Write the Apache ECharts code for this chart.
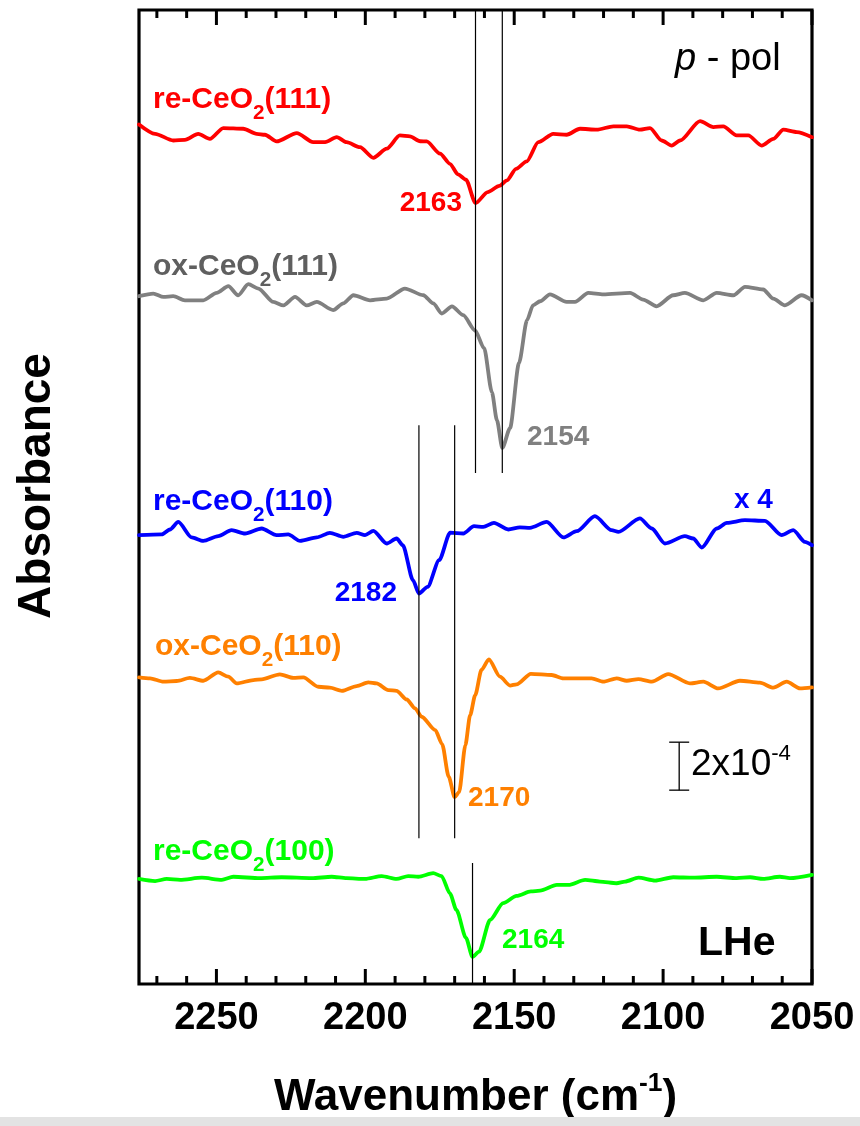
<!DOCTYPE html>
<html>
<head>
<meta charset="utf-8">
<script src="https://cdn.jsdelivr.net/npm/echarts@6/dist/echarts.min.js"></script>
<style>
  html, body { margin: 0; padding: 0; background: #fff; }
  #chart { width: 860px; height: 1126px; }
</style>
</head>
<body>
<div id="chart"></div>
<script>
// Wavenumber axis (cm^-1), drawn high -> low
const xMajorStep = 50;
const xMajorTicks = [2050, 2100, 2150, 2200, 2250];
const xMinorTicks = [2060, 2070, 2080, 2090, 2110, 2120, 2130, 2140, 2160, 2170, 2180, 2190,
                     2210, 2220, 2230, 2240, 2260, 2270];

// Spectra: absorbance change in units of 1e-4, relative to each trace's own baseline
const reCeO2_111_wn = [2276, 2270.6, 2264.5, 2260.6, 2256.1, 2252.2, 2247.7, 2241.0, 2236.5, 2233.7,
  2229.8, 2223.0, 2217.5, 2213.5, 2209.6, 2206.3, 2201.8, 2197.3, 2192.8, 2188.4, 2185.0, 2181.6,
  2179.4, 2174.9, 2171.6, 2168.9, 2166.2, 2163.0, 2158.9, 2155.0, 2152.4, 2149.4, 2145.8, 2141.9,
  2136.9, 2132.4, 2127.9, 2122.3, 2116.7, 2112.2, 2107.8, 2104.4, 2100.5, 2097.1, 2094.3, 2087.6,
  2083.1, 2079.8, 2075.3, 2071.4, 2066.9, 2063.0, 2059.6, 2055.1, 2050];
const reCeO2_111_abs = [0.25, -0.14, -0.42, -0.39, -0.14, -0.35, 0.10, 0.07, -0.14, -0.18,
  -0.46, -0.11, -0.49, -0.49, -0.28, -0.49, -0.70, -1.14, -0.76, -0.21, -0.25, -0.45,
  -0.46, -0.97, -1.39, -1.83, -2.05, -3.03, -2.57, -2.31, -2.08, -1.60, -1.29, -0.49,
  -0.14, -0.18, 0.07, 0.03, 0.17, 0.17, 0.03, 0.10, -0.42, -0.63, -0.42, 0.39,
  0.14, 0.17, -0.21, -0.21, -0.63, -0.35, 0.03, -0.07, -0.28];

const oxCeO2_111_wn = [2276, 2271.2, 2267.8, 2264.5, 2260.6, 2254.4, 2249.9, 2246.0, 2242.7, 2239.3,
  2235.9, 2230.9, 2227.5, 2223.6, 2219.7, 2216.3, 2210.8, 2207.4, 2204.0, 2198.4, 2192.8, 2186.7,
  2180.5, 2177.2, 2174.3, 2170.9, 2167.1, 2163.2, 2160.1, 2157.5, 2155.8, 2154.0, 2151.4, 2148.4,
  2145.7, 2143.7, 2141.3, 2138.0, 2132.4, 2129.6, 2125.1, 2120.1, 2111.1, 2106.7, 2102.2, 2096.6,
  2092.7, 2086.5, 2082.0, 2076.4, 2072.5, 2066.4, 2063.0, 2059.1, 2053.5, 2050];
const oxCeO2_111_abs = [0, 0.11, -0.03, 0, -0.17, -0.17, 0.14, 0.42, 0.04, 0.50,
  0.32, -0.24, -0.38, -0.03, -0.38, -0.24, -0.58, -0.30, 0.04, -0.17, -0.10, 0.32,
  0.04, -0.30, -0.72, -0.42, -0.79, -1.42, -2.17, -4.00, -5.17, -6.33, -5.50, -2.79,
  -1.00, -0.38, -0.21, 0.08, -0.24, -0.24, 0.14, 0.08, 0.14, -0.14, -0.42, 0.04,
  0.14, -0.17, 0.14, 0.04, 0.39, 0.28, -0.10, -0.38, 0.04, -0.17];

// re-CeO2(110) is stored unscaled; it is drawn magnified (x 4)
const reCeO2_110_wn = [2276, 2268.4, 2265.6, 2262.8, 2258.3, 2254.4, 2249.4, 2244.9, 2240.4, 2234.8,
  2229.8, 2225.9, 2221.9, 2216.3, 2211.9, 2207.4, 2202.9, 2200.1, 2197.3, 2192.8, 2189.5, 2187.4,
  2184.0, 2182.0, 2179.1, 2175.2, 2171.5, 2167.1, 2163.5, 2160.4, 2156.8, 2152.0, 2148.1, 2144.7,
  2139.1, 2133.5, 2129.0, 2122.9, 2117.3, 2115.0, 2107.8, 2103.8, 2099.4, 2092.7, 2089.9, 2087.0,
  2082.0, 2078.6, 2072.5, 2065.8, 2060.2, 2056.3, 2052.4, 2050];
const reCeO2_110_abs = [-0.010, -0.003, 0.049, 0.128, -0.034, -0.070, -0.021, 0.042, 0.007, 0.059,
  -0.010, -0.003, -0.070, -0.034, 0.014, -0.028, 0.014, -0.010, 0.034, -0.097, -0.045, -0.115,
  -0.479, -0.618, -0.549, -0.271, 0.016, 0.007, 0.083, 0.076, 0.118, 0.049, 0.070, 0.066,
  0.128, -0.034, 0.031, 0.188, 0.042, 0.024, 0.164, 0.059, -0.097, -0.021, -0.045, -0.139,
  0.059, 0.118, 0.146, 0.139, -0.010, 0.042, -0.080, -0.115];

const oxCeO2_110_wn = [2276, 2272.3, 2267.8, 2263.3, 2258.9, 2254.4, 2249.4, 2246.0, 2243.2, 2237.6,
  2234.8, 2228.7, 2224.2, 2220.8, 2215.8, 2211.9, 2207.9, 2202.9, 2199.0, 2196.2, 2192.3, 2189.5,
  2186.1, 2183.3, 2181.1, 2176.5, 2174.2, 2172.0, 2170.0, 2168.5, 2166.4, 2164.8, 2163.1, 2161.0,
  2158.5, 2154.8, 2151.4, 2149.2, 2144.4, 2137.4, 2133.5, 2124.0, 2120.1, 2115.6, 2112.2, 2108.3,
  2103.8, 2098.3, 2091.0, 2086.5, 2081.5, 2074.2, 2067.5, 2063.0, 2058.5, 2054.0, 2050];
const oxCeO2_110_abs = [0.07, 0.03, -0.11, -0.08, 0.05, -0.07, 0.28, 0.10, -0.18, -0.04,
  -0.01, 0.20, 0.05, 0.07, -0.32, -0.36, -0.49, -0.29, -0.14, -0.18, -0.46, -0.49,
  -0.85, -1.22, -1.57, -2.13, -2.71, -4.07, -4.92, -4.71, -2.75, -1.50, -0.67, 0.38,
  0.82, 0.10, -0.27, -0.22, 0.22, 0.17, 0.03, 0.03, -0.11, 0.03, -0.07, 0,
  -0.11, 0.21, -0.18, -0.11, -0.39, -0.07, -0.15, -0.36, -0.11, -0.39, -0.35];

const reCeO2_100_wn = [2276, 2270.6, 2266.7, 2262.2, 2254.9, 2248.2, 2244.3, 2235.4, 2228.1, 2218.0,
  2211.3, 2206.3, 2200.1, 2194.5, 2189.5, 2185.6, 2182.2, 2177.2, 2174.4, 2171.6, 2169.4, 2166.2,
  2164.0, 2161.8, 2158.1, 2153.7, 2149.2, 2144.4, 2141.3, 2135.7, 2131.8, 2126.2, 2121.2, 2115.6,
  2112.8, 2108.3, 2102.7, 2096.6, 2089.9, 2082.0, 2075.3, 2070.8, 2066.4, 2060.8, 2057.4, 2050];
const reCeO2_100_abs = [-0.04, -0.13, -0.04, -0.08, 0.01, -0.08, 0.05, -0.01, 0.03, -0.01,
  0.05, -0.01, -0.04, 0.08, -0.04, 0.08, 0.05, 0.20, 0.08, -0.64, -1.33, -2.50,
  -3.29, -3.07, -1.75, -1.05, -0.75, -0.56, -0.53, -0.29, -0.29, -0.08, -0.15, -0.22,
  -0.15, 0.01, -0.11, 0.03, 0.01, 0.05, -0.01, 0.03, -0.04, 0.05, -0.01, 0.13];

// Vertical stacking offsets (1e-4 units) and display magnification of each trace
const traceOffsets = [35.58, 28.67, 18.75, 12.71, 4.42];
const traceScales = [1, 1, 4, 1, 1];

// Band positions (cm^-1)
const peakPositions = [2163, 2154, 2182, 2170, 2164];

// Scale bar: 2 x 10^-4 absorbance
const scaleBarValue = 2;

// ---------------------------------------------------------------
const FONT = '"Liberation Sans", Arial, Helvetica, sans-serif';
const X_MIN = 2050, X_MAX = 2276;
const Y_MIN = 0, Y_MAX = 40.6;

const traces = [
  { name: ['re-CeO', '2', '(111)'], wn: reCeO2_111_wn, abs: reCeO2_111_abs, color: '#ff0000', labelColor: '#ff0000' },
  { name: ['ox-CeO', '2', '(111)'], wn: oxCeO2_111_wn, abs: oxCeO2_111_abs, color: '#808080', labelColor: '#5f5f5f' },
  { name: ['re-CeO', '2', '(110)'], wn: reCeO2_110_wn, abs: reCeO2_110_abs, color: '#0000ff', labelColor: '#0000ff' },
  { name: ['ox-CeO', '2', '(110)'], wn: oxCeO2_110_wn, abs: oxCeO2_110_abs, color: '#ff8000', labelColor: '#ff8000' },
  { name: ['re-CeO', '2', '(100)'], wn: reCeO2_100_wn, abs: reCeO2_100_abs, color: '#00ff00', labelColor: '#00ff00' }
];

// marker line vertical spans (axis units) for each band
const markerSpans = [[21.3, Y_MAX], [21.3, Y_MAX], [6.08, 23.29], [6.08, 23.29], [Y_MIN, 5.04]];
const peakColors = ['#ff0000', '#808080', '#0000ff', '#ff8000', '#00ff00'];
// label anchors: [x, baseline, align]
const peakLabelAnchors = [[462, 213, 'right'], [527, 447, 'left'], [397, 603, 'right'], [468, 808, 'left'], [502, 950, 'left']];
const nameAnchors = [[153, 110], [153, 277], [153, 512], [155, 657], [153, 862]];

// text measuring for multi-part labels (sub/superscripts, italics)
const measureCtx = document.createElement('canvas').getContext('2d');
function textWidth(text, size, weight, style) {
  measureCtx.font = `${style || 'normal'} ${weight || 'normal'} ${size}px ${FONT}`;
  return measureCtx.measureText(text).width;
}

// parts: [{t, sub?, sup?, it?}] ; returns graphic text elements sitting on one baseline
function composeText(parts, x, baseline, size, weight, color, align, z) {
  const items = parts.map(p => {
    const fs = p.sub ? size * 0.69 : p.sup ? size * 0.6 : size;
    const shift = p.sub ? size * 0.34 : p.sup ? -size * 0.45 : 0;
    const style = p.it ? 'italic' : 'normal';
    return { t: p.t, fs, shift, style, w: textWidth(p.t, fs, weight, style) };
  });
  const total = items.reduce((s, it) => s + it.w, 0);
  let cx = align === 'right' ? x - total : align === 'center' ? x - total / 2 : x;
  const els = [];
  items.forEach(it => {
    els.push({
      type: 'text', x: cx, y: baseline + it.shift - 0.3465 * it.fs, z: z || 10, silent: true,
      style: {
        text: it.t, fill: color, fontSize: it.fs, fontWeight: weight, fontStyle: it.style,
        fontFamily: FONT, align: 'left', verticalAlign: 'middle',
        textAlign: 'left', textVerticalAlign: 'middle'
      }
    });
    cx += it.w;
  });
  return els;
}

const graphics = [];
traces.forEach((tr, i) => {
  const [x, bl] = nameAnchors[i];
  graphics.push(...composeText([{ t: tr.name[0] }, { t: tr.name[1], sub: true }, { t: tr.name[2] }],
    x, bl, 30, 'bold', tr.labelColor, 'left'));
  const [px, pb, pa] = peakLabelAnchors[i];
  graphics.push(...composeText([{ t: String(peakPositions[i]) }], px, pb, 28, 'bold', peakColors[i], pa));
});
graphics.push(...composeText([{ t: 'x 4' }], 734, 510, 28, 'bold', '#0000ff', 'left'));
graphics.push(...composeText([{ t: 'LHe' }], 698, 958, 41, 'bold', '#000', 'left'));
graphics.push(...composeText([{ t: 'p', it: true }, { t: ' - pol' }], 675, 73, 38, 'normal', '#000', 'left'));
graphics.push(...composeText([{ t: scaleBarValue + 'x10' }, { t: '-4', sup: true }], 691, 778, 37, 'normal', '#000', 'left'));
graphics.push(...composeText([{ t: 'Wavenumber (cm' }, { t: '-1', sup: true }, { t: ')' }], 475.5, 1113, 44, 'bold', '#000', 'center'));
graphics.push({
  type: 'text', x: 53 - 0.3465 * 46, y: 486, rotation: Math.PI / 2, silent: true,
  style: {
    text: 'Absorbance', fill: '#000', fontSize: 46, fontWeight: 'bold', fontFamily: FONT,
    align: 'center', verticalAlign: 'middle', textAlign: 'center', textVerticalAlign: 'middle'
  }
});
graphics.push({
  type: 'rect', x: 0, y: 1117, z: 20, silent: true,
  shape: { width: 860, height: 9 }, style: { fill: '#e3e3e3' }
});

const series = [];
traces.forEach((tr, i) => {
  series.push({
    type: 'line', name: tr.name.join(''), xAxisIndex: 0, yAxisIndex: 0,
    data: tr.wn.map((w, k) => [w, traceOffsets[i] + traceScales[i] * tr.abs[k]]),
    showSymbol: false, symbol: 'none', animation: false, z: 2,
    smooth: 0.25, smoothMonotone: 'x',
    lineStyle: { color: tr.color, width: 3.8, join: 'round', cap: 'round' }
  });
});
peakPositions.forEach((p, i) => {
  series.push({
    type: 'line', xAxisIndex: 0, yAxisIndex: 0,
    data: [[p, markerSpans[i][0]], [p, markerSpans[i][1]]],
    showSymbol: false, symbol: 'none', animation: false, z: 3, silent: true,
    lineStyle: { color: '#000', width: 1.2 }
  });
});
// scale bar (I-beam) of height scaleBarValue
series.push({
  type: 'custom', xAxisIndex: 0, yAxisIndex: 0, clip: false, silent: true, z: 4,
  data: [[2094.6, 8.08, scaleBarValue]],
  renderItem: (params, api) => {
    const x = api.value(0), y0 = api.value(1), h = api.value(2);
    const pb = api.coord([x, y0]);
    const pt = api.coord([x, y0 + h]);
    const cap = 10;
    const st = { stroke: '#000', lineWidth: 1.3, fill: null };
    return {
      type: 'group', children: [
        { type: 'line', shape: { x1: pb[0], y1: pb[1], x2: pt[0], y2: pt[1] }, style: st },
        { type: 'line', shape: { x1: pb[0] - cap, y1: pb[1], x2: pb[0] + cap, y2: pb[1] }, style: st },
        { type: 'line', shape: { x1: pt[0] - cap, y1: pt[1], x2: pt[0] + cap, y2: pt[1] }, style: st }
      ]
    };
  }
});

const option = {
  backgroundColor: '#ffffff',
  animation: false,
  grid: {
    left: 139, right: 48, top: 10, bottom: 142,
    show: true, borderColor: '#000', borderWidth: 3.2, backgroundColor: 'transparent'
  },
  xAxis: [{
    type: 'value', position: 'bottom', min: X_MIN, max: X_MAX, interval: xMajorStep, inverse: true,
    axisLine: { show: false },
    splitLine: { show: false },
    axisTick: { show: false },
    axisLabel: {
      show: true, margin: 16, hideOverlap: false,
      formatter: v => (v % xMajorStep === 0 ? String(v) : ''),
      color: '#000', fontSize: 38, fontWeight: 'bold', fontFamily: FONT
    }
  }],
  yAxis: [{
    type: 'value', min: Y_MIN, max: Y_MAX,
    axisLine: { show: false }, axisTick: { show: false },
    axisLabel: { show: false }, splitLine: { show: false }
  }],
  series,
  graphic: { elements: graphics }
};

const chart = echarts.init(document.getElementById('chart'), null, { renderer: 'canvas' });
chart.setOption(option);

// inward ticks on the bottom and top frame edges, placed through the x axis scale
const tickEls = [];
const yBottom = chart.convertToPixel({ yAxisIndex: 0 }, Y_MIN);
const yTop = chart.convertToPixel({ yAxisIndex: 0 }, Y_MAX);
[[xMajorTicks, 15], [xMinorTicks, 8]].forEach(([values, len]) => {
  values.forEach(v => {
    const x = chart.convertToPixel({ xAxisIndex: 0 }, v);
    tickEls.push(
      { type: 'line', silent: true, z: 30, shape: { x1: x, y1: yBottom, x2: x, y2: yBottom - len },
        style: { stroke: '#000', lineWidth: 3 } },
      { type: 'line', silent: true, z: 30, shape: { x1: x, y1: yTop, x2: x, y2: yTop + len },
        style: { stroke: '#000', lineWidth: 3 } }
    );
  });
});
chart.setOption({ graphic: { elements: graphics.concat(tickEls) } }, { replaceMerge: ['graphic'] });
</script>
</body>
</html>
